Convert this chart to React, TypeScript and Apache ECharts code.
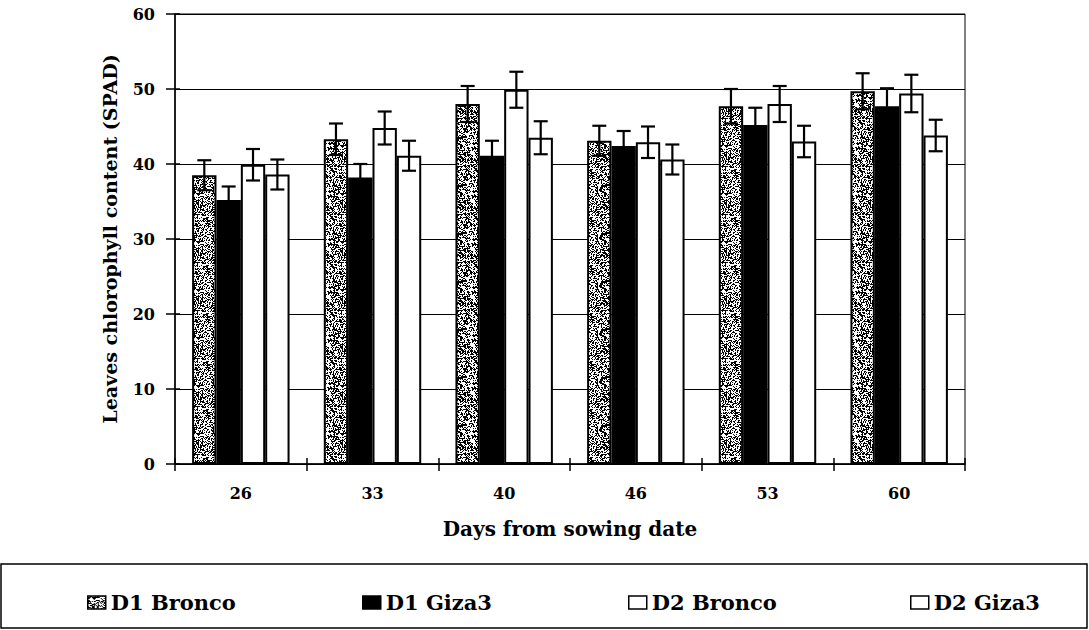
import React, { useEffect, useRef } from "react";
import * as echarts from "echarts";

const categories = ["26", "33", "40", "46", "53", "60"];
const seriesNames = ["D1 Bronco", "D1 Giza3", "D2 Bronco", "D2 Giza3"];
const d1Bronco = [38.5, 43.3, 48.0, 43.1, 47.7, 49.7];
const d1BroncoErr = [2.0, 2.1, 2.4, 2.0, 2.3, 2.4];
const d1Giza3 = [35.2, 38.2, 41.1, 42.4, 45.2, 47.7];
const d1Giza3Err = [1.8, 1.8, 2.0, 2.0, 2.3, 2.4];
const d2Bronco = [39.9, 44.8, 49.9, 42.9, 48.0, 49.4];
const d2BroncoErr = [2.1, 2.2, 2.4, 2.1, 2.4, 2.5];
const d2Giza3 = [38.6, 41.1, 43.5, 40.6, 43.0, 43.8];
const d2Giza3Err = [2.0, 2.0, 2.2, 2.0, 2.1, 2.1];

const values = [d1Bronco, d1Giza3, d2Bronco, d2Giza3];
const errors = [d1BroncoErr, d1Giza3Err, d2BroncoErr, d2Giza3Err];
const yTicks = [0, 10, 20, 30, 40, 50, 60];

const FONT = "'DejaVu Serif', 'Liberation Serif', serif";
const CAT_GAP = 0.26;

function makeSpeckle(): HTMLCanvasElement {
  const c = document.createElement("canvas");
  c.width = 48;
  c.height = 48;
  const ctx = c.getContext("2d")!;
  ctx.fillStyle = "#ffffff";
  ctx.fillRect(0, 0, 48, 48);
  ctx.fillStyle = "#000000";
  let s = 12345;
  for (let y = 0; y < 48; y++) {
    for (let x = 0; x < 48; x++) {
      s = (s * 1103515245 + 12345) & 0x7fffffff;
      if ((s >> 16) % 100 < 48) ctx.fillRect(x, y, 1, 1);
    }
  }
  return c;
}

export default function App() {
  const ref = useRef<HTMLDivElement>(null);
  useEffect(() => {
    if (!ref.current) return;
    const chart = echarts.init(ref.current, undefined, { renderer: "svg" });
    const speckle = makeSpeckle();
    const fills: any[] = [
      { image: speckle, repeat: "repeat" },
      "#000000",
      "#ffffff",
      "#ffffff",
    ];

    const barSeries = seriesNames.map((name, k) => ({
      name,
      type: "bar",
      xAxisIndex: 0,
      yAxisIndex: 0,
      data: values[k],
      barGap: "0%",
      barCategoryGap: CAT_GAP * 100 + "%",
      itemStyle: { color: fills[k], borderColor: "#000", borderWidth: 2 },
      z: 2,
    }));

    const errSeries = seriesNames.map((name, k) => ({
      name: name + " err",
      type: "custom",
      xAxisIndex: 0,
      yAxisIndex: 0,
      z: 5,
      data: values[k].map((v, i) => [i, v - errors[k][i], v + errors[k][i]]),
      encode: { x: 0, y: [1, 2] },
      renderItem: (params: any, api: any) => {
        const i = api.value(0);
        const lo = api.coord([i, api.value(1)]);
        const hi = api.coord([i, api.value(2)]);
        const catW = api.size([1, 0])[0];
        const bw = (catW * (1 - CAT_GAP)) / 4;
        const x = lo[0] + (k - 1.5) * bw;
        const cap = 7;
        const st = { stroke: "#000", lineWidth: 2.2 };
        return {
          type: "group",
          children: [
            { type: "line", shape: { x1: x, y1: lo[1], x2: x, y2: hi[1] }, style: st },
            { type: "line", shape: { x1: x - cap, y1: hi[1], x2: x + cap, y2: hi[1] }, style: st },
            { type: "line", shape: { x1: x - cap, y1: lo[1], x2: x + cap, y2: lo[1] }, style: st },
          ],
        };
      },
    }));

    const legendLefts = [82, 357, 623, 905];
    const legends = seriesNames.map((name, k) => ({
      data: [name],
      left: legendLefts[k],
      top: 587,
      itemWidth: 18,
      itemHeight: 13,
      itemGap: 5,
      icon: "rect",
      itemStyle: { borderColor: "#000", borderWidth: 1.5 },
      textStyle: { fontFamily: FONT, fontWeight: "bold", fontSize: 21, color: "#000" },
      selectedMode: false,
    }));

    chart.setOption({
      animation: false,
      backgroundColor: "#fff",
      legend: legends,
      grid: {
        left: 175,
        right: 124,
        top: 14,
        bottom: 166,
        show: true,
        borderColor: "#000",
        borderWidth: 1,
        backgroundColor: "transparent",
      },
      xAxis: [
        {
          type: "category",
          data: categories,
          position: "bottom",
          name: "Days from sowing date",
          nameLocation: "middle",
          nameGap: 55,
          nameTextStyle: { fontFamily: FONT, fontWeight: "bold", fontSize: 20, color: "#000" },
          axisLine: { lineStyle: { color: "#000", width: 1.5 } },
          axisTick: { show: true, length: 7, lineStyle: { color: "#000", width: 1.5 } },
          axisLabel: { fontFamily: FONT, fontWeight: "bold", fontSize: 16, color: "#000", margin: 21 },
          splitLine: { show: false },
        },
        {
          type: "category",
          data: categories,
          position: "bottom",
          axisLine: { show: false },
          axisTick: { show: true, inside: true, length: 6, lineStyle: { color: "#000", width: 1.5 } },
          axisLabel: { show: false },
          splitLine: { show: false },
        },
      ],
      yAxis: [
        {
          type: "value",
          min: yTicks[0],
          max: yTicks[yTicks.length - 1],
          interval: 10,
          name: "Leaves chlorophyll content (SPAD)",
          nameLocation: "middle",
          nameGap: 56,
          nameTextStyle: { fontFamily: FONT, fontWeight: "bold", fontSize: 19, color: "#000" },
          axisLine: { show: true, lineStyle: { color: "#000", width: 1.5 } },
          axisTick: { show: true, length: 9, lineStyle: { color: "#000", width: 1.5 } },
          axisLabel: { fontFamily: FONT, fontWeight: "bold", fontSize: 16, color: "#000", margin: 20 },
          splitLine: { show: true, lineStyle: { color: "#000", width: 1 } },
        },
        {
          type: "value",
          min: yTicks[0],
          max: yTicks[yTicks.length - 1],
          interval: 10,
          position: "left",
          axisLine: { show: false },
          axisTick: { show: true, inside: true, length: 5, lineStyle: { color: "#000", width: 1.5 } },
          axisLabel: { show: false },
          splitLine: { show: false },
        },
      ],
      graphic: [
        {
          type: "rect",
          shape: { x: 1, y: 564, width: 1086, height: 64 },
          style: { fill: "none", stroke: "#000", lineWidth: 1.5 },
          z: -1,
        },
      ],
      series: [...barSeries, ...errSeries],
    });
    return () => chart.dispose();
  }, []);
  return (
    <div
      ref={ref}
      style={{ position: "fixed", left: 0, top: 0, width: 1089, height: 630, background: "#fff" }}
    />
  );
}
